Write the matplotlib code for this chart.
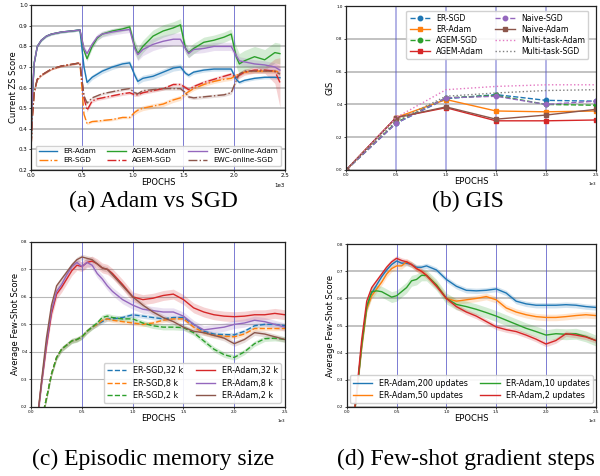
import numpy as np
import matplotlib
matplotlib.use("Agg")
import matplotlib.pyplot as plt

# ---------------- Panel (a): Adam vs SGD (current ZS score) ----------------
epochs_a = [0, 10, 30, 60, 100, 150, 200, 300, 400, 480,
            520, 550, 600, 650, 700, 800, 900, 970,
            1020, 1050, 1100, 1200, 1300, 1400, 1470,
            1520, 1550, 1600, 1700, 1800, 1900, 1970,
            2020, 2050, 2100, 2200, 2300, 2400, 2450]
first_adam = [0.33, 0.55, 0.72, 0.80, 0.83, 0.85, 0.86, 0.87, 0.875, 0.88]
first_sgd = [0.32, 0.45, 0.58, 0.64, 0.66, 0.675, 0.69, 0.705, 0.713, 0.72]

er_adam = first_adam + [0.70, 0.625, 0.65, 0.665, 0.68, 0.70, 0.715, 0.72,
                        0.66, 0.63, 0.645, 0.655, 0.675, 0.695, 0.70,
                        0.67, 0.66, 0.675, 0.685, 0.69, 0.69, 0.69,
                        0.64, 0.625, 0.635, 0.645, 0.65, 0.65, 0.648]
agem_adam = first_adam + [0.78, 0.74, 0.80, 0.84, 0.86, 0.875, 0.885, 0.895,
                          0.80, 0.765, 0.80, 0.85, 0.875, 0.89, 0.905,
                          0.79, 0.77, 0.79, 0.82, 0.83, 0.845, 0.86,
                          0.75, 0.715, 0.73, 0.75, 0.735, 0.77, 0.765]
ewc_adam = first_adam + [0.79, 0.765, 0.81, 0.845, 0.86, 0.87, 0.878, 0.882,
                         0.79, 0.76, 0.785, 0.81, 0.825, 0.835, 0.835,
                         0.79, 0.765, 0.785, 0.79, 0.80, 0.80, 0.80,
                         0.755, 0.73, 0.725, 0.715, 0.71, 0.70, 0.685]
er_sgd = first_sgd + [0.47, 0.425, 0.435, 0.437, 0.44, 0.445, 0.455, 0.455,
                      0.48, 0.49, 0.50, 0.51, 0.52, 0.54, 0.55,
                      0.57, 0.58, 0.595, 0.615, 0.63, 0.64, 0.645,
                      0.66, 0.665, 0.675, 0.68, 0.68, 0.68, 0.675]
agem_sgd = first_sgd + [0.55, 0.49, 0.535, 0.545, 0.55, 0.56, 0.57, 0.575,
                        0.565, 0.565, 0.575, 0.585, 0.595, 0.615, 0.615,
                        0.60, 0.59, 0.605, 0.625, 0.64, 0.655, 0.665,
                        0.65, 0.66, 0.675, 0.685, 0.685, 0.68, 0.625]
ewc_sgd = first_sgd + [0.56, 0.525, 0.55, 0.56, 0.57, 0.58, 0.59, 0.595,
                       0.575, 0.57, 0.585, 0.59, 0.595, 0.595, 0.595,
                       0.575, 0.555, 0.55, 0.555, 0.56, 0.565, 0.575,
                       0.635, 0.665, 0.68, 0.68, 0.68, 0.68, 0.665]
# band half-widths per task (5 tasks)
band_a = {
    "ER-Adam": [0.005, 0.012, 0.015, 0.01, 0.008],
    "ER-SGD": [0.004, 0.006, 0.012, 0.01, 0.008],
    "AGEM-Adam": [0.005, 0.012, 0.03, 0.025, 0.05],
    "AGEM-SGD": [0.004, 0.008, 0.008, 0.01, 0.015],
    "EWC-online-Adam": [0.005, 0.015, 0.03, 0.02, 0.02],
    "EWC-online-SGD": [0.004, 0.006, 0.008, 0.008, 0.01],
}
tail_band_agem_sgd = [0.06, 0.12]

# ---------------- Panel (b): GIS ----------------
epochs_b = [0, 500, 1000, 1500, 2000, 2500]
gis_er_sgd = [0.0, 0.285, 0.435, 0.46, 0.425, 0.42]
gis_er_adam = [0.0, 0.32, 0.43, 0.36, 0.355, 0.36]
gis_agem_sgd = [0.0, 0.29, 0.44, 0.455, 0.40, 0.395]
gis_agem_adam = [0.0, 0.32, 0.38, 0.30, 0.30, 0.305]
gis_naive_sgd = [0.0, 0.285, 0.44, 0.45, 0.40, 0.42]
gis_naive_adam = [0.0, 0.32, 0.385, 0.31, 0.335, 0.37]
gis_mt_adam = [0.0, 0.32, 0.49, 0.51, 0.52, 0.52]
gis_mt_sgd = [0.0, 0.30, 0.45, 0.47, 0.485, 0.49]

# ---------------- Panel (c): episodic memory size ----------------
epochs_cd = [50, 100, 150, 200, 250, 300, 350, 400, 450, 500, 550, 600, 650, 700,
             750, 800, 900, 1000, 1100, 1200, 1300, 1400, 1500, 1600, 1700, 1800,
             1900, 2000, 2100, 2200, 2300, 2400, 2500]
sgd_start = [0.03, 0.15, 0.23, 0.32, 0.38, 0.41, 0.425, 0.44, 0.445, 0.455, 0.475, 0.49, 0.50]
c_sgd_32 = sgd_start + [0.51, 0.52, 0.52, 0.525, 0.535, 0.53, 0.525, 0.52, 0.525, 0.525,
                        0.50, 0.475, 0.465, 0.463, 0.462, 0.475, 0.495, 0.50, 0.50, 0.495]
c_sgd_8 = sgd_start + [0.515, 0.52, 0.515, 0.51, 0.505, 0.50, 0.505, 0.515, 0.52, 0.52,
                       0.49, 0.47, 0.46, 0.457, 0.455, 0.465, 0.485, 0.485, 0.485, 0.485]
c_sgd_2 = sgd_start[:-1] + [0.505, 0.525, 0.53, 0.525, 0.52, 0.52, 0.505, 0.495, 0.49, 0.49, 0.488,
                            0.47, 0.44, 0.41, 0.39, 0.38, 0.40, 0.43, 0.448, 0.45, 0.445]
c_adam_32 = [0.12, 0.28, 0.42, 0.54, 0.61, 0.635, 0.665, 0.695, 0.715, 0.71, 0.725, 0.73,
             0.72, 0.705, 0.70, 0.685, 0.645, 0.60, 0.59, 0.595, 0.605, 0.61, 0.59, 0.56,
             0.545, 0.535, 0.53, 0.528, 0.53, 0.535, 0.535, 0.54, 0.535]
c_adam_8 = [0.12, 0.28, 0.43, 0.55, 0.62, 0.645, 0.68, 0.71, 0.725, 0.71, 0.725, 0.715,
            0.685, 0.665, 0.64, 0.62, 0.59, 0.57, 0.555, 0.55, 0.545, 0.545, 0.53, 0.50,
            0.48, 0.485, 0.49, 0.50, 0.505, 0.515, 0.51, 0.50, 0.49]
c_adam_2 = [0.12, 0.29, 0.45, 0.57, 0.64, 0.665, 0.69, 0.715, 0.735, 0.745, 0.74, 0.735,
            0.72, 0.705, 0.70, 0.68, 0.64, 0.60, 0.57, 0.545, 0.525, 0.51, 0.49, 0.475,
            0.47, 0.46, 0.45, 0.43, 0.445, 0.47, 0.465, 0.455, 0.445]
band_c = [0.008, 0.008, 0.01, 0.018, 0.015, 0.01]

# ---------------- Panel (d): few-shot gradient steps ----------------
d_200 = [0.10, 0.25, 0.43, 0.57, 0.62, 0.65, 0.68, 0.705, 0.725, 0.738, 0.73, 0.73,
         0.725, 0.715, 0.715, 0.72, 0.705, 0.67, 0.645, 0.63, 0.628, 0.63, 0.635, 0.62,
         0.59, 0.58, 0.575, 0.575, 0.575, 0.577, 0.575, 0.57, 0.567]
d_50 = [0.10, 0.25, 0.42, 0.56, 0.61, 0.635, 0.66, 0.69, 0.71, 0.72, 0.72, 0.735,
        0.725, 0.71, 0.70, 0.685, 0.65, 0.60, 0.59, 0.595, 0.60, 0.607, 0.595, 0.565,
        0.55, 0.54, 0.533, 0.53, 0.53, 0.533, 0.537, 0.54, 0.537]
d_10 = [0.10, 0.25, 0.43, 0.57, 0.625, 0.628, 0.625, 0.615, 0.605, 0.61, 0.625, 0.64,
        0.665, 0.67, 0.685, 0.685, 0.65, 0.60, 0.578, 0.57, 0.56, 0.548, 0.535, 0.52,
        0.505, 0.49, 0.478, 0.465, 0.47, 0.468, 0.47, 0.46, 0.445]
d_2 = [0.10, 0.26, 0.45, 0.59, 0.64, 0.665, 0.69, 0.715, 0.735, 0.748, 0.74, 0.735,
       0.725, 0.71, 0.70, 0.685, 0.645, 0.60, 0.57, 0.55, 0.535, 0.515, 0.495, 0.485,
       0.478, 0.465, 0.45, 0.432, 0.445, 0.47, 0.465, 0.458, 0.445]
band_d = [0.01, 0.012, 0.02, 0.01]

# ---------------- drawing ----------------
C = plt.rcParams['axes.prop_cycle'].by_key()['color']
VCOL = '#5a5ac8'
GRIDCOL = '#b8b8b8'

fig = plt.figure(figsize=(6.0, 4.76), dpi=100)
ax_a = fig.add_axes([0.052, 0.643, 0.423, 0.346])
ax_b = fig.add_axes([0.577, 0.643, 0.416, 0.344])
ax_c = fig.add_axes([0.052, 0.145, 0.423, 0.347])
ax_d = fig.add_axes([0.578, 0.145, 0.415, 0.342])


def style(ax, ylim, yticks, ylabel, tick_fs, vlw=0.7, valpha=0.8, glw=1.2):
    ax.set_xlim(0, 2500)
    ax.set_ylim(*ylim)
    ax.set_yticks(yticks)
    ax.set_xticks([0, 500, 1000, 1500, 2000, 2500])
    ax.ticklabel_format(axis='x', style='sci', scilimits=(0, 0))
    ax.xaxis.get_offset_text().set_fontsize(tick_fs)
    ax.tick_params(labelsize=tick_fs, length=1.5, width=0.5, pad=1)
    ax.yaxis.grid(True, color=GRIDCOL, lw=glw)
    ax.set_axisbelow(True)
    for xv in [500, 1000, 1500, 2000]:
        ax.axvline(xv, color=VCOL, lw=vlw, alpha=valpha, zorder=1.5)
    ax.set_xlabel('EPOCHS', fontsize=6, labelpad=0)
    ax.set_ylabel(ylabel, fontsize=6, labelpad=1)
    for s in ax.spines.values():
        s.set_linewidth(0.9)
        s.set_color('#222222')


# (a)
xa = np.array(epochs_a)
seg = np.digitize(xa, [500, 1000, 1500, 2000])
series_a = [("ER-Adam", er_adam, C[0], '-'), ("ER-SGD", er_sgd, C[1], '-.'),
            ("AGEM-Adam", agem_adam, C[2], '-'), ("AGEM-SGD", agem_sgd, C[3], '-.'),
            ("EWC-online-Adam", ewc_adam, C[4], '-'), ("EWC-online-SGD", ewc_sgd, C[5], '-.')]
for name, ys, col, ls in series_a:
    ys = np.array(ys)
    bw = np.array(band_a[name])[seg]
    if name == "AGEM-SGD":
        bw = bw.copy()
        bw[-len(tail_band_agem_sgd):] = tail_band_agem_sgd
    ax_a.fill_between(xa, ys - bw, ys + bw, color=col, alpha=0.2, lw=0)
    ax_a.plot(xa, ys, color=col, ls=ls, lw=1.0, label=name)
style(ax_a, (0.2, 1.0), np.arange(0.2, 1.01, 0.1), 'Current ZS Score', 4)
ax_a.legend(loc='lower center', ncol=3, fontsize=5.2, frameon=True, framealpha=0.9,
            edgecolor='#cccccc', borderpad=0.4, handlelength=2.6, columnspacing=1.6,
            labelspacing=0.4, bbox_to_anchor=(0.5, 0.0))

# (b)
series_b = [("ER-SGD", gis_er_sgd, C[0], '--', 'o'), ("ER-Adam", gis_er_adam, C[1], '-', 's'),
            ("AGEM-SGD", gis_agem_sgd, C[2], '--', 'o'), ("AGEM-Adam", gis_agem_adam, C[3], '-', 's'),
            ("Naive-SGD", gis_naive_sgd, C[4], '--', 'o'), ("Naive-Adam", gis_naive_adam, C[5], '-', 's'),
            ("Multi-task-Adam", gis_mt_adam, C[6], ':', None), ("Multi-task-SGD", gis_mt_sgd, C[7], ':', None)]
for name, ys, col, ls, mk in series_b:
    ax_b.plot(epochs_b, ys, color=col, ls=ls, marker=mk, ms=3.2, lw=1.0, label=name)
style(ax_b, (0.0, 1.0), np.arange(0.0, 1.01, 0.2), 'GIS', 3, vlw=1.3, valpha=0.5)
ax_b.legend(loc='upper right', ncol=2, fontsize=5.6, frameon=True, framealpha=0.9,
            edgecolor='#cccccc', borderpad=0.4, handlelength=2.6, columnspacing=1.4,
            labelspacing=0.25, bbox_to_anchor=(0.985, 0.995))

# (c)
xc = np.array(epochs_cd)
series_c = [("ER-SGD,32 k", c_sgd_32, C[0], '--'), ("ER-SGD,8 k", c_sgd_8, C[1], '--'),
            ("ER-SGD,2 k", c_sgd_2, C[2], '--'), ("ER-Adam,32 k", c_adam_32, C[3], '-'),
            ("ER-Adam,8 k", c_adam_8, C[4], '-'), ("ER-Adam,2 k", c_adam_2, C[5], '-')]
for (name, ys, col, ls), bw in zip(series_c, band_c):
    ys = np.array(ys)
    ax_c.fill_between(xc, ys - bw, ys + bw, color=col, alpha=0.2, lw=0)
    ax_c.plot(xc, ys, color=col, ls=ls, lw=1.0, label=name)
style(ax_c, (0.2, 0.8), np.arange(0.2, 0.81, 0.1), 'Average Few-Shot Score', 3, glw=0.8)
ax_c.legend(loc='lower right', ncol=2, fontsize=5.8, frameon=True, framealpha=0.9,
            edgecolor='#cccccc', borderpad=0.4, handlelength=2.4, columnspacing=1.6,
            labelspacing=0.4)

# (d)
series_d = [("ER-Adam,200 updates", d_200, C[0]), ("ER-Adam,50 updates", d_50, C[1]),
            ("ER-Adam,10 updates", d_10, C[2]), ("ER-Adam,2 updates", d_2, C[3])]
for (name, ys, col), bw in zip(series_d, band_d):
    ys = np.array(ys)
    ax_d.fill_between(xc, ys - bw, ys + bw, color=col, alpha=0.2, lw=0)
    ax_d.plot(xc, ys, color=col, lw=1.0, label=name)
style(ax_d, (0.2, 0.8), np.arange(0.2, 0.81, 0.1), 'Average Few-Shot Score', 3)
ax_d.legend(loc='lower center', ncol=2, fontsize=5.8, frameon=True, framealpha=0.9,
            edgecolor='#cccccc', borderpad=0.4, handlelength=2.4, columnspacing=1.6,
            labelspacing=0.4)

cap = dict(family='Liberation Serif', fontsize=17, ha='center', va='center')
fig.text(0.256, 0.576, '(a) Adam vs SGD', **cap)
fig.text(0.78, 0.576, '(b) GIS', **cap)
fig.text(0.256, 0.034, '(c) Episodic memory size', **cap)
fig.text(0.776, 0.034, '(d) Few-shot gradient steps', **cap)

fig.savefig('out.png', dpi=100)
